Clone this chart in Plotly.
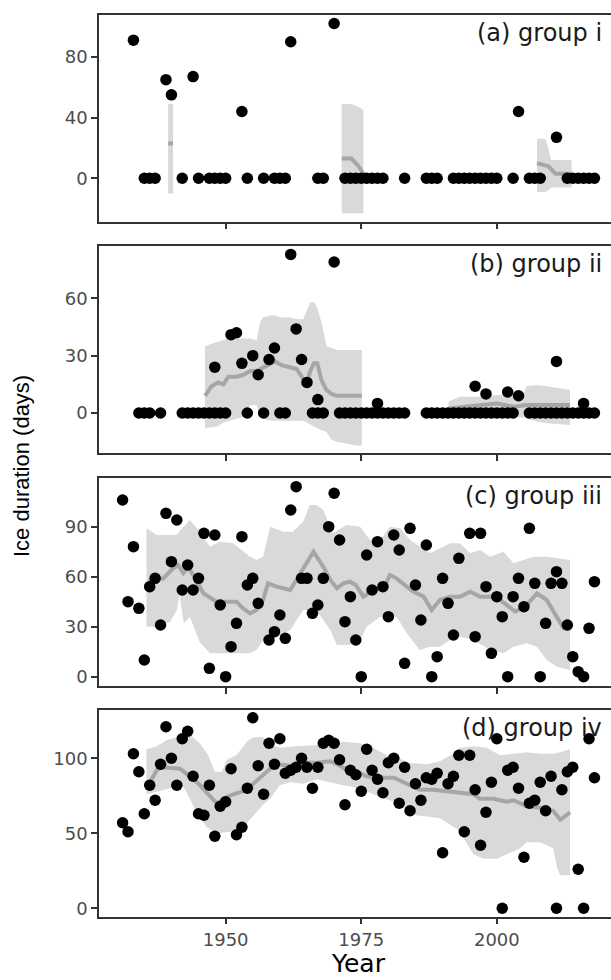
import plotly.graph_objects as go

# ---------------- data ----------------
# panel (a) group i : observations
a_years = [1933, 1935, 1936, 1937, 1939, 1940, 1942, 1944, 1945, 1947, 1948, 1949, 1950,
           1953, 1954, 1957, 1959, 1960, 1961, 1962, 1967, 1968, 1970,
           1972, 1973, 1974, 1975, 1976, 1977, 1978, 1979, 1983, 1987, 1988, 1989,
           1992, 1993, 1994, 1995, 1996, 1997, 1998, 1999, 2000, 2003, 2004,
           2006, 2007, 2008, 2011, 2013, 2014, 2015, 2016, 2017, 2018]
a_days = [91, 0, 0, 0, 65, 55, 0, 67, 0, 0, 0, 0, 0,
          44, 0, 0, 0, 0, 0, 90, 0, 0, 102,
          0, 0, 0, 0, 0, 0, 0, 0, 0, 0, 0, 0,
          0, 0, 0, 0, 0, 0, 0, 0, 0, 0, 44,
          0, 0, 0, 27, 0, 0, 0, 0, 0, 0]
# panel (a) rolling mean and band (three separate pieces)
a1_years = [1939.4, 1940.3]
a1_mean = [23, 23]
a1_upper = [49, 49]
a1_lower = [-10, -10]
a2_years = [1971.4, 1973.2, 1974.5, 1975.4]
a2_mean = [13, 13, 8, 3]
a2_upper = [49, 49, 47, 45]
a2_lower = [-23, -23, -23, -23]
a3_years = [2007.4, 2008.9, 2009.5, 2010.0, 2010.8, 2013.8]
a3_mean = [10, 9, 8, 6, 3, 3]
a3_upper = [26, 26, 20, 12, 12, 12]
a3_lower = [-9, -9, -8, -6, -6, -6]

# panel (b) group ii : observations
b_years = [1934, 1935, 1936, 1938,
           1942, 1943, 1944, 1945, 1946, 1947, 1948, 1949, 1950,
           1954, 1957, 1960, 1961, 1966, 1967, 1968,
           1971, 1972, 1973, 1974, 1975, 1976, 1977, 1978, 1979, 1980, 1981, 1982, 1983,
           1987, 1988, 1989, 1990, 1991, 1992, 1993, 1994, 1995, 1996, 1997, 1998, 1999,
           2000, 2001, 2002, 2003,
           2006, 2007, 2008, 2009, 2010, 2011, 2012, 2013, 2014, 2015, 2016, 2017, 2018,
           1948, 1951, 1952, 1953, 1955, 1956, 1958, 1959, 1962, 1963, 1964, 1965, 1967,
           1970, 1978, 1996, 1998, 2002, 2004, 2011, 2016]
b_days = [0, 0, 0, 0,
          0, 0, 0, 0, 0, 0, 0, 0, 0,
          0, 0, 0, 0, 0, 0, 0,
          0, 0, 0, 0, 0, 0, 0, 0, 0, 0, 0, 0, 0,
          0, 0, 0, 0, 0, 0, 0, 0, 0, 0, 0, 0, 0,
          0, 0, 0, 0,
          0, 0, 0, 0, 0, 0, 0, 0, 0, 0, 0, 0, 0,
          24, 41, 42, 26, 30, 20, 28, 34, 83, 44, 28, 16, 7,
          79, 5, 14, 10, 11, 9, 27, 5]
b1_years = [1946.2, 1947.4, 1948.6, 1949.6, 1950.5, 1952.0, 1953.3, 1954.5, 1955.7, 1956.4,
            1956.9, 1958.2, 1959.1, 1960.3, 1961.9, 1963.1, 1964.3, 1965.0, 1965.6, 1966.3,
            1966.9, 1967.7, 1968.6, 1969.5, 1970.5, 1972.3, 1974.0, 1975.1]
b1_mean = [9, 14, 16, 15, 19, 19, 20, 22, 22, 23,
           24, 26, 27, 25, 24, 23, 18, 16, 22, 26,
           26, 17, 12, 10, 9, 9, 9, 9]
b1_upper = [35, 36, 37, 38, 39, 39, 39, 39, 38, 48,
            50, 51, 51, 50, 50, 49, 49, 54, 58, 58,
            55, 47, 35, 34, 33, 33, 33, 33]
b1_lower = [-8, -7.5, -7, -5, -4, -3, -2, 4, 4, -2,
            -3, -4, -4, -4, -4, -4, -4, -5, -6, -7,
            -8, -9, -10, -14, -15, -16, -17, -17]
b2_years = [1991.1, 1993.2, 1995.7, 1996.9, 1998.5, 2000.0, 2003.1, 2004.9, 2005.5, 2007.4, 2009.2, 2013.5]
b2_mean = [2.4, 3, 3.3, 4, 4.5, 5, 3.3, 4, 4.2, 4.2, 4.2, 4.2]
b2_upper = [6, 8.5, 8.5, 8.5, 9, 9.4, 9.4, 10, 14, 14.7, 14, 12]
b2_lower = [0.7, -2, -2, -2, -2, -2, -2, -2.5, -3, -4.5, -5.4, -6.3]

# panel (c) group iii : observations
c_years = [1931, 1932, 1933, 1934, 1935, 1936, 1937, 1938, 1939, 1940, 1941, 1942, 1943, 1944,
           1945, 1946, 1947, 1948, 1949, 1950, 1951, 1952, 1953, 1954, 1955, 1956, 1958, 1959,
           1960, 1961, 1962, 1963, 1964, 1965, 1966, 1967, 1968, 1969, 1970, 1971, 1972, 1973,
           1974, 1975, 1976, 1977, 1978, 1979, 1980, 1981, 1982, 1983, 1984, 1985, 1986, 1987,
           1988, 1989, 1990, 1991, 1992, 1993, 1995, 1996, 1997, 1998, 1999, 2000, 2001, 2002,
           2003, 2004, 2005, 2006, 2007, 2008, 2009, 2010, 2011, 2012, 2013, 2014, 2015, 2016,
           2017, 2018]
c_days = [106, 45, 78, 41, 10, 54, 59, 31, 98, 69, 94, 52, 67, 52,
          59, 86, 5, 85, 43, 0, 18, 32, 84, 55, 59, 44, 22, 27,
          37, 23, 100, 114, 59, 59, 38, 43, 59, 90, 110, 82, 33, 48,
          22, 0, 73, 52, 81, 54, 36, 85, 76, 8, 89, 55, 34, 79,
          0, 12, 59, 44, 25, 71, 86, 24, 86, 54, 14, 48, 36, 0,
          48, 59, 42, 89, 56, 0, 32, 56, 63, 56, 31, 12, 3, 0,
          29, 57]
c_mean_years = [1935.7, 1937.3, 1938.5, 1940.0, 1941.2, 1942.2, 1943.1, 1945.9, 1948.3, 1949.6,
                1952.0, 1953.2, 1954.5, 1955.7, 1956.9, 1957.8, 1959.4, 1961.9, 1963.1, 1964.9,
                1966.2, 1968.0, 1969.3, 1970.5, 1971.7, 1972.9, 1974.0, 1975.4, 1977.2, 1979.1,
                1980.3, 1981.5, 1983.4, 1984.6, 1986.5, 1988.0, 1989.5, 1991.4, 1993.2, 1995.1,
                1996.9, 1998.8, 2000.6, 2001.8, 2003.4, 2005.5, 2007.4, 2009.2, 2011.1, 2012.3,
                2013.5]
c_mean = [57, 58, 59, 64, 67, 62, 66, 50, 45, 45,
          45, 41, 38, 40, 46, 56, 54, 52, 58, 68,
          75, 66, 58, 53, 56, 57, 55, 48, 52, 53,
          61, 59, 54, 51, 48, 40, 46, 48, 48, 51,
          48, 48, 46, 43, 39, 43, 50, 46, 36, 29,
          29]
c_upper_years = [1935.4, 1937.3, 1940.9, 1943.4, 1945.2, 1947.1, 1948.9, 1951.4, 1954.5, 1955.7,
                 1956.9, 1958.2, 1960.6, 1962.4, 1964.3, 1965.5, 1966.7, 1968.0, 1969.8, 1972.3,
                 1974.8, 1976.6, 1978.5, 1980.3, 1982.2, 1984.0, 1985.9, 1987.7, 1989.5, 1991.4,
                 1993.2, 1995.1, 1996.9, 1998.8, 2001.2, 2003.1, 2004.9, 2006.8, 2009.2, 2011.7,
                 2013.5]
c_upper = [89, 85, 85, 94, 87, 78, 81, 80, 72, 70,
           72, 90, 87, 87, 93, 103, 103, 100, 86, 91,
           90, 82, 82, 90, 89, 82, 78, 74, 77, 80,
           80, 74, 76, 72, 75, 68, 70, 72, 72, 71,
           70]
c_lower_years = [1935.4, 1937.3, 1939.8, 1941.0, 1941.5, 1942.3, 1943.4, 1945.2, 1947.1, 1949.6,
                 1952.0, 1954.5, 1955.7, 1956.9, 1959.4, 1961.9, 1964.3, 1966.7, 1969.3, 1970.5,
                 1972.9, 1974.8, 1976.0, 1978.5, 1981.5, 1983.4, 1985.8, 1987.7, 1989.5, 1991.4,
                 1993.2, 1995.7, 1998.8, 2001.2, 2003.1, 2005.5, 2007.4, 2009.2, 2011.1, 2013.5]
c_lower = [30, 30, 33, 40, 49, 32, 36, 21, 14, 14,
           14, 14, 16, 22, 24, 28, 40, 40, 28, 19,
           19, 22, 30, 36, 36, 26, 16, 18, 18, 22,
           24, 22, 16, 14, 18, 20, 18, 10, 6, 4]

# panel (d) group iv : observations
d_years = [1931, 1932, 1933, 1934, 1935, 1936, 1937, 1938, 1939, 1940, 1941, 1942, 1943, 1944,
           1945, 1946, 1947, 1948, 1949, 1950, 1951, 1952, 1953, 1954, 1955, 1956, 1957, 1958,
           1959, 1960, 1961, 1962, 1963, 1964, 1965, 1966, 1967, 1968, 1969, 1970, 1971, 1972,
           1973, 1974, 1975, 1976, 1977, 1978, 1979, 1980, 1981, 1982, 1983, 1984, 1985, 1986,
           1987, 1988, 1989, 1990, 1991, 1992, 1993, 1994, 1995, 1996, 1997, 1998, 1999, 2000,
           2001, 2002, 2003, 2004, 2005, 2006, 2007, 2008, 2009, 2010, 2011, 2012, 2013, 2014,
           2015, 2016, 2017, 2018]
d_days = [57, 51, 103, 91, 63, 82, 72, 96, 121, 100, 82, 113, 118, 88,
          63, 62, 82, 48, 68, 71, 93, 49, 54, 80, 127, 95, 76, 110,
          96, 113, 90, 92, 94, 100, 94, 80, 94, 110, 112, 110, 99, 69,
          92, 89, 78, 106, 92, 86, 77, 97, 100, 70, 94, 65, 83, 72,
          87, 86, 90, 37, 83, 88, 102, 51, 102, 79, 42, 64, 84, 113,
          0, 92, 94, 80, 34, 70, 72, 84, 65, 88, 0, 79, 91, 94,
          26, 0, 113, 87]
d_mean_years = [1935.9, 1937.3, 1938.2, 1941.6, 1943.4, 1945.3, 1946.8, 1948.1, 1948.7, 1949.6,
                1951.4, 1953.2, 1955.1, 1956.9, 1958.2, 1959.4, 1961.9, 1964.3, 1966.8, 1969.3,
                1971.1, 1972.9, 1974.8, 1976.0, 1978.5, 1981.0, 1983.4, 1985.8, 1988.3, 1990.8,
                1993.2, 1995.7, 1996.9, 1999.4, 2001.8, 2003.1, 2005.5, 2008.0, 2010.4, 2011.7,
                2013.5]
d_mean = [83, 92, 94, 93, 88, 82, 76, 71, 70, 73,
          76, 78, 83, 89, 93, 96, 95, 97, 97, 98,
          95, 91, 90, 88, 87, 87, 83, 79, 79, 78,
          77, 76, 73, 73, 71, 72, 68, 67, 65, 59,
          64]
d_upper_years = [1935.4, 1937.3, 1939.1, 1940.9, 1943.4, 1945.2, 1946.8, 1948.0, 1949.3, 1950.2,
                 1952.0, 1953.9, 1955.1, 1956.9, 1958.2, 1960.0, 1963.1, 1968.0, 1971.7, 1974.8,
                 1977.2, 1979.7, 1982.2, 1983.4, 1987.1, 1989.5, 1992.0, 1993.2, 1995.7, 1998.1,
                 2000.6, 2003.1, 2005.5, 2008.0, 2010.4, 2011.7, 2013.5]
d_upper = [106, 108, 112, 114, 116, 110, 102, 91, 91, 99,
           102, 111, 114, 114, 109, 107, 108, 109, 111, 110,
           107, 102, 100, 97, 96, 98, 103, 107, 108, 107,
           102, 103, 104, 103, 103, 104, 106]
d_lower_years = [1935.4, 1937.3, 1939.8, 1942.2, 1943.4, 1944.6, 1946.5, 1948.4, 1950.9, 1953.2,
                 1955.1, 1956.9, 1958.2, 1960.0, 1961.9, 1964.3, 1966.8, 1969.3, 1971.7, 1974.8,
                 1977.2, 1981.0, 1983.4, 1985.2, 1989.5, 1992.6, 1993.8, 1995.7, 1997.5, 2000.0,
                 2001.8, 2004.3, 2005.5, 2008.0, 2010.4, 2011.1, 2011.7, 2013.5]
d_lower = [76, 78, 80, 81, 73, 64, 54, 50, 51, 54,
           62, 69, 73, 82, 84, 83, 86, 84, 82, 80,
           76, 71, 66, 62, 60, 53, 47, 36, 33, 33,
           36, 40, 44, 44, 40, 27, 22, 22]

panel_labels = ["(a) group i", "(b) group ii", "(c) group iii", "(d) group iv"]
y_tickvals = [[0, 40, 80], [0, 30, 60], [0, 30, 60, 90], [0, 50, 100]]
y_ranges = [[-28.6, 107.6], [-21.1, 87.4], [-5.6, 119.0], [-5.6, 132.2]]
x_tickvals = [1950, 1975, 2000]
x_ticktext = ["1950", "1975", "2000"]

# ---------------- figure ----------------
W, H = 611, 980
ML = 99
panel_px = [(15, 221.7), (246, 453.3), (478.3, 686), (710, 916.7)]  # top, bottom in pixels

BAND = "#d9d9d9"
LINE = "#a6a6a6"
FONT = "DejaVu Sans"

fig = go.Figure()

panels = [
    dict(pts=(a_years, a_days),
         pieces=[(a1_years, a1_mean, a1_years, a1_upper, a1_years, a1_lower),
                 (a2_years, a2_mean, a2_years, a2_upper, a2_years, a2_lower),
                 (a3_years, a3_mean, a3_years, a3_upper, a3_years, a3_lower)]),
    dict(pts=(b_years, b_days),
         pieces=[(b1_years, b1_mean, b1_years, b1_upper, b1_years, b1_lower),
                 (b2_years, b2_mean, b2_years, b2_upper, b2_years, b2_lower)]),
    dict(pts=(c_years, c_days),
         pieces=[(c_mean_years, c_mean, c_upper_years, c_upper, c_lower_years, c_lower)]),
    dict(pts=(d_years, d_days),
         pieces=[(d_mean_years, d_mean, d_upper_years, d_upper, d_lower_years, d_lower)]),
]

for i, p in enumerate(panels):
    xa = "x" if i == 0 else f"x{i+1}"
    ya = "y" if i == 0 else f"y{i+1}"
    for (my, mv, uy, uv, ly, lv) in p["pieces"]:
        fig.add_trace(go.Scatter(x=list(uy) + list(ly)[::-1], y=list(uv) + list(lv)[::-1],
                                 fill="toself", fillcolor=BAND, line=dict(width=0),
                                 mode="lines", hoverinfo="skip", showlegend=False,
                                 xaxis=xa, yaxis=ya))
    for (my, mv, uy, uv, ly, lv) in p["pieces"]:
        fig.add_trace(go.Scatter(x=my, y=mv, mode="lines",
                                 line=dict(color=LINE, width=4, shape="linear"),
                                 showlegend=False, xaxis=xa, yaxis=ya))
    fig.add_trace(go.Scatter(x=p["pts"][0], y=p["pts"][1], mode="markers",
                             marker=dict(color="black", size=11.5, line=dict(width=0)),
                             showlegend=False, xaxis=xa, yaxis=ya))

layout = dict(width=W, height=H, margin=dict(l=ML, r=0, t=0, b=0),
              plot_bgcolor="white", paper_bgcolor="white", showlegend=False,
              font=dict(family=FONT, color="#4d4d4d", size=18))

annotations = []
for i in range(4):
    top, bot = panel_px[i]
    dom = [1 - bot / H, 1 - top / H]
    xkey = "xaxis" if i == 0 else f"xaxis{i+1}"
    ykey = "yaxis" if i == 0 else f"yaxis{i+1}"
    yname = "y" if i == 0 else f"y{i+1}"
    xname = "x" if i == 0 else f"x{i+1}"
    layout[xkey] = dict(domain=[0, 1], anchor=yname, range=[1926.65, 2021.05],
                        tickvals=x_tickvals, ticktext=x_ticktext,
                        showticklabels=(i == 3), ticks="outside", ticklen=6, tickwidth=1.5,
                        tickcolor="#333333", showline=True, mirror=True, linecolor="#333333",
                        linewidth=1.5, showgrid=False, zeroline=False, automargin=False,
                        tickfont=dict(family=FONT, size=18, color="#4d4d4d"))
    layout[ykey] = dict(domain=dom, anchor=xname, range=y_ranges[i], tickvals=y_tickvals[i],
                        ticks="outside", ticklen=6, tickwidth=1.5, tickcolor="#333333",
                        showline=True, mirror=False, linecolor="#333333", linewidth=1.5,
                        showgrid=False, zeroline=False, automargin=False,
                        tickfont=dict(family=FONT, size=18, color="#4d4d4d"))
    annotations.append(dict(text=panel_labels[i], xref="paper", yref="paper",
                            x=(604 - ML) / (W - ML), y=1 - (top + 2) / H,
                            xanchor="right", yanchor="top", showarrow=False,
                            font=dict(family=FONT, size=24, color="#1a1a1a")))

annotations.append(dict(text="Ice duration (days)", xref="paper", yref="paper",
                        x=(22 - ML) / (W - ML), y=1 - 466 / H, textangle=-90,
                        xanchor="center", yanchor="middle", showarrow=False,
                        font=dict(family="Liberation Sans", size=22, color="black")))
annotations.append(dict(text="Year", xref="paper", yref="paper",
                        x=(358.5 - ML) / (W - ML), y=0.0,
                        xanchor="center", yanchor="bottom", showarrow=False,
                        font=dict(family=FONT, size=25, color="black")))
layout["annotations"] = annotations

fig.update_layout(**layout)
fig.write_html("out.html", config={"displayModeBar": False},
               post_script="document.body.style.margin='0';document.body.style.overflow='hidden';")
